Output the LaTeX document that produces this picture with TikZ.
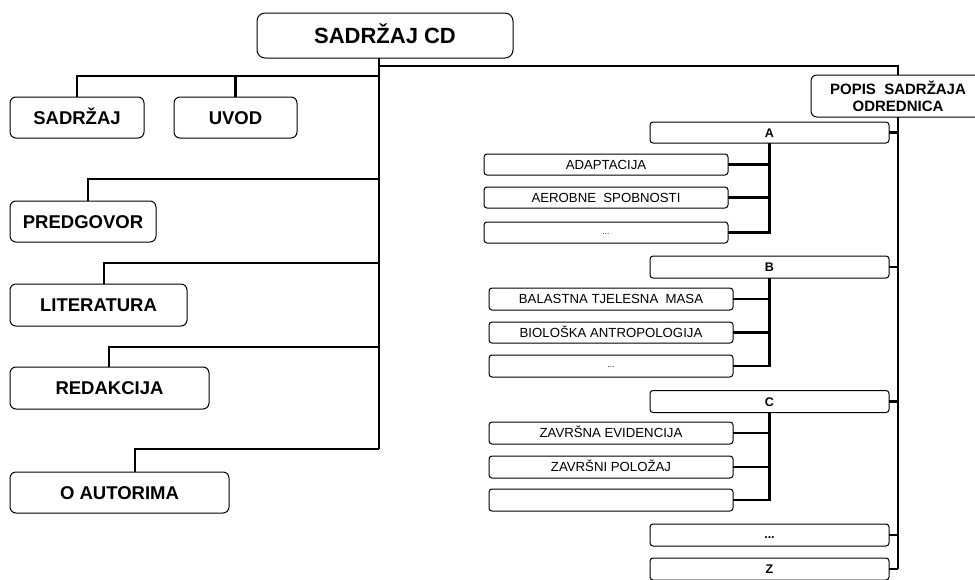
\documentclass[tikz,border=0pt]{standalone}
\usepackage{fontspec}
\setmainfont{Liberation Sans}
\begin{document}
\begin{tikzpicture}[x=1pt,y=-1pt,
  box/.style={draw, fill=white, line width=1pt, inner sep=0pt, outer sep=0pt, align=center, text depth=0pt},
  bigbox/.style={box, rounded corners=6pt, font=\bfseries\fontsize{18.5}{21}\selectfont, text height=13.2pt},
  rootbox/.style={box, rounded corners=8pt, font=\bfseries\fontsize{22}{26}\selectfont, text height=15.8pt},
  popbox/.style={draw, fill=white, line width=1pt, inner sep=0pt, outer sep=0pt, align=center, rounded corners=6pt, font=\bfseries\fontsize{15}{17}\selectfont},
  letbox/.style={box, rounded corners=3pt, minimum width=239pt, minimum height=21pt, font=\bfseries\fontsize{12.5}{14}\selectfont, text height=9pt},
  itembox/.style={box, rounded corners=3pt, minimum width=244pt, minimum height=21pt, font=\fontsize{13.2}{15}\selectfont, text height=9.5pt},
  dotsbox/.style={itembox, font=\fontsize{8}{9}\selectfont, text height=3.5pt, text depth=0pt},
  conn/.style={line width=2.2pt},
  grp/.style={line width=2.6pt},
  trunk/.style={line width=2.8pt}]
\useasboundingbox (0,0) rectangle (975,579);
\clip (0,0) rectangle (975,579);

% coordinates on trunk
\coordinate (tTop) at (379,58);
\coordinate (jR) at (379,66);
\coordinate (jT) at (379,76);
\coordinate (jP) at (379,179);
\coordinate (jL) at (379,263);
\coordinate (jD) at (379,347);
\coordinate (jO) at (379,449);

% trunk (drawn first, boxes on top)
\draw[trunk] (tTop) -- (jO);

% nodes
\node[rootbox, minimum width=256pt, minimum height=45pt] (root) at (385,35.5) {SADRŽAJ CD};
\node[bigbox, minimum width=134pt, minimum height=41pt] (sadrzaj) at (77,117.5) {SADRŽAJ};
\node[bigbox, minimum width=123pt, minimum height=41pt] (uvod) at (235.5,117.5) {UVOD};
\node[bigbox, minimum width=146pt, minimum height=41pt] (predgovor) at (83,221.5) {PREDGOVOR};
\node[bigbox, minimum width=177pt, minimum height=42pt] (literatura) at (98.5,305) {LITERATURA};
\node[bigbox, minimum width=199pt, minimum height=42pt] (redakcija) at (109.5,388) {REDAKCIJA};
\node[bigbox, minimum width=219pt, minimum height=41pt] (oautorima) at (119.5,492.5) {O AUTORIMA};

\node[popbox, minimum width=174pt, minimum height=42pt] (popis) at (898,96) {POPIS\ \ SADRŽAJA\\ODREDNICA};

\node[letbox] (A) at (769.5,132.5) {A};
\node[itembox] (a1) at (606,164.5) {ADAPTACIJA};
\node[itembox] (a2) at (606,197.5) {AEROBNE\ \ SPOBNOSTI};
\node[dotsbox] (a3) at (606,232.5) {...};

\node[letbox, minimum height=22pt] (B) at (769.5,267) {B};
\node[itembox, minimum height=22pt] (b1) at (611,299) {BALASTNA TJELESNA\ \ MASA};
\node[itembox] (b2) at (611,332.5) {BIOLOŠKA ANTROPOLOGIJA};
\node[dotsbox, minimum height=22pt] (b3) at (611,366) {...};

\node[letbox, minimum height=22pt] (C) at (769.5,401.5) {C};
\node[itembox, minimum height=22pt] (c1) at (611,433) {ZAVRŠNA EVIDENCIJA};
\node[itembox, minimum height=22pt] (c2) at (611,467) {ZAVRŠNI POLOŽAJ};
\node[itembox, minimum height=22pt] (c3) at (611,500) {};

\node[letbox, minimum height=22pt, text height=6pt, text depth=0pt] (D) at (769.5,535) {...};
\node[letbox, minimum height=22pt] (Z) at (769.5,569) {Z};

% left connectors
\draw[conn] (jT) -| (sadrzaj.north);
\draw[conn] (jT) -| (uvod.north);
\draw[conn] (jP) -| ([xshift=5pt]predgovor.north);
\draw[conn] (jL) -| ([xshift=5.5pt]literatura.north);
\draw[conn] (jD) -| ([xshift=-0.5pt]redakcija.north);
\draw[conn] (jO) -| ([xshift=15.5pt]oautorima.north);

% right connectors
\draw[conn] (jR) -| (popis.north);
\draw[trunk] (popis.south) -- (popis.south |- Z.east);
\foreach \n in {A,B,C,D,Z} \draw[conn] (\n.east) -- (\n.east -| popis.south);
\foreach \g/\i in {A/a,B/b,C/c}{
  \draw[grp] (\g.south) -- (\g.south |- \i3.east) -- (\i3.east);
  \draw[grp] (\i1.east) -- (\i1.east -| \g.south);
  \draw[grp] (\i2.east) -- (\i2.east -| \g.south);
}
\end{tikzpicture}
\end{document}
